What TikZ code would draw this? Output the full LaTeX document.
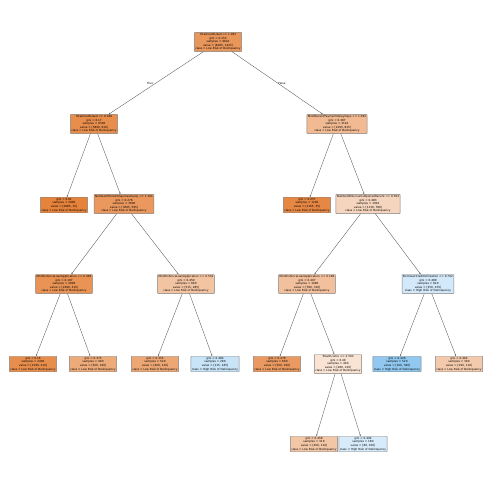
\documentclass[tikz,border=0pt]{standalone}
\usepackage{fontspec}
\setmainfont{DejaVu Sans}
\usetikzlibrary{arrows.meta}
\definecolor{lowrisk}{RGB}{229,129,57}
\definecolor{highrisk}{RGB}{57,157,229}
\tikzset{
  treenode/.style={draw=black!50, line width=0.4pt, rounded corners=0.5pt,
    align=center, inner sep=1pt, font=\fontsize{2.8}{3.6}\selectfont},
  low/.style={treenode, fill=lowrisk!#1},
  high/.style={treenode, fill=highrisk!#1},
  branch/.style={-{Stealth[length=1.8pt,width=1.3pt]}, line width=0.35pt, black!65},
  edgelabel/.style={font=\fontsize{2.8}{3.2}\selectfont, inner sep=0pt},
}
\newcommand{\lowcls}{class = Low Risk of Delinquency}
\newcommand{\highcls}{class = High Risk of Delinquency}
\begin{document}
\begin{tikzpicture}[x=1pt,y=-1pt]
\path[fill=white,use as bounding box] (0,0) rectangle (492,490);
% depth 0 and 1
\node[low=83] (root) at (218,42) {TotalCreditUsed <= 1.063\\gini = 0.253\\samples = 9610\\value = [8185, 1425]\\\lowcls};
\node[low=90] (n1) at (94,124) {TotalCreditUsed <= 0.938\\gini = 0.17\\samples = 6500\\value = [5890, 610]\\\lowcls};
\node[low=55] (n2) at (337,124) {MostRecentPaymentDelayDays <= 1.382\\gini = 0.387\\samples = 3110\\value = [2295, 815]\\\lowcls};
% depth 2
\node[low=99] (n3) at (64,205) {gini = 0.01\\samples = 2900\\value = [2885, 15]\\\lowcls};
\node[low=82] (n4) at (124,204) {NumberOfCreditInquiriesYearly <= 1.101\\gini = 0.276\\samples = 3600\\value = [3005, 595]\\\lowcls};
\node[low=95] (n5) at (307,205) {gini = 0.057\\samples = 1200\\value = [1165, 35]\\\lowcls};
\node[low=33] (n6) at (368,204) {NumberOfAccountsOpenedRecent <= 0.503\\gini = 0.483\\samples = 1910\\value = [1130, 780]\\\lowcls};
% depth 3
\node[low=86] (n7) at (64,284) {MonthsSinceLoanApplication <= 0.463\\gini = 0.197\\samples = 2800\\value = [2490, 310]\\\lowcls};
\node[low=47] (n8) at (186,284) {MonthsSinceLoanApplication <= 0.532\\gini = 0.459\\samples = 800\\value = [515, 285]\\\lowcls};
\node[low=50] (n9) at (307,284) {MonthsSinceLoanApplication <= 0.166\\gini = 0.407\\samples = 1090\\value = [780, 310]\\\lowcls};
\node[high=22] (n10) at (428,284) {BorrowerCreditUtilization <= 0.702\\gini = 0.489\\samples = 820\\value = [350, 470]\\\highcls};
% depth 4
\node[low=90] (n11) at (33,364) {gini = 0.16\\samples = 2400\\value = [2190, 210]\\\lowcls};
\node[low=67] (n12) at (93,364) {gini = 0.375\\samples = 400\\value = [300, 100]\\\lowcls};
\node[low=70] (n13) at (155,364) {gini = 0.355\\samples = 520\\value = [400, 120]\\\lowcls};
\node[high=28] (n14) at (215,364) {gini = 0.484\\samples = 280\\value = [115, 165]\\\highcls};
\node[low=80] (n15) at (277,364) {gini = 0.278\\samples = 600\\value = [500, 100]\\\lowcls};
\node[low=22] (n16) at (338,364) {TotalIncome <= 2.503\\gini = 0.49\\samples = 490\\value = [280, 210]\\\lowcls};
\node[high=56] (n17) at (397,364) {gini = 0.426\\samples = 520\\value = [160, 360]\\\highcls};
\node[low=42] (n18) at (459,364) {gini = 0.464\\samples = 300\\value = [190, 110]\\\lowcls};
% depth 5
\node[low=45] (n19) at (314,444) {gini = 0.458\\samples = 310\\value = [200, 110]\\\lowcls};
\node[high=20] (n20) at (363,444) {gini = 0.494\\samples = 180\\value = [80, 100]\\\highcls};
% branches
\draw[branch] (root) -- (n1);
\draw[branch] (root) -- (n2);
\draw[branch] (n1) -- (n3);
\draw[branch] (n1) -- (n4);
\draw[branch] (n2) -- (n5);
\draw[branch] (n2) -- (n6);
\draw[branch] (n4) -- (n7);
\draw[branch] (n4) -- (n8);
\draw[branch] (n6) -- (n9);
\draw[branch] (n6) -- (n10);
\draw[branch] (n7) -- (n11);
\draw[branch] (n7) -- (n12);
\draw[branch] (n8) -- (n13);
\draw[branch] (n8) -- (n14);
\draw[branch] (n9) -- (n15);
\draw[branch] (n9) -- (n16);
\draw[branch] (n10) -- (n17);
\draw[branch] (n10) -- (n18);
\draw[branch] (n16) -- (n19);
\draw[branch] (n16) -- (n20);
\node[edgelabel] (truelbl) at (150,83) {True};
\node[edgelabel] (falselbl) at (282,83) {False};
\end{tikzpicture}
\end{document}
